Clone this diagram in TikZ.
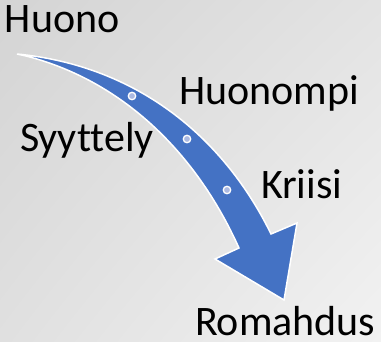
\documentclass[tikz,border=0pt]{standalone}
\usepackage{fontspec}
\setmainfont{Carlito}[Ligatures=NoCommon]
\usepackage{tikz}
\usetikzlibrary{positioning,shadings}
\definecolor{arrowblue}{RGB}{68,114,196}
\definecolor{dotblue}{RGB}{172,186,226}
\definecolor{bgdark}{RGB}{212,212,212}
\definecolor{bglight}{RGB}{242,242,242}

\begin{document}
\begin{tikzpicture}[x=1pt,y=-1pt,every node/.style={inner sep=0,outer sep=0,font=\fontsize{42}{48}\selectfont,anchor=base west},
	stage/.style={circle,draw=white,line width=1.3pt,fill=dotblue,minimum size=7.5pt,anchor=center}]
	% background
	\shade[lower left=bgdark!60!bglight,upper left=bgdark,upper right=bgdark!50!bglight,lower right=bglight] (0,0) rectangle (381,342);
	\useasboundingbox (0,0) rectangle (381,342);
	% arrow
	\filldraw[fill=arrowblue,draw=white,line width=1.5pt,line join=miter]
		(17,54) .. controls (140,66) and (225,140) .. (271,234)
		-- (297,223) -- (284,300) -- (215,259) -- (239,248)
		.. controls (195,150) and (120,80) .. (26,56) -- cycle;
	\node[stage] (d1) at (132,96) {};
	\node[stage] (d2) at (187,139) {};
	\node[stage] (d3) at (227,190) {};
	% labels
	\node (huono) at (5,33) {Huono};
	\node (huonompi) at (179,105) {Huonompi};
	\node (syyttely) at (20,152) {Syyttely};
	\node (kriisi) at (261,199) {Kriisi};
	\node[text depth=0pt] (romahdus) at (195,336) {Romahdus};
\end{tikzpicture}
\end{document}
